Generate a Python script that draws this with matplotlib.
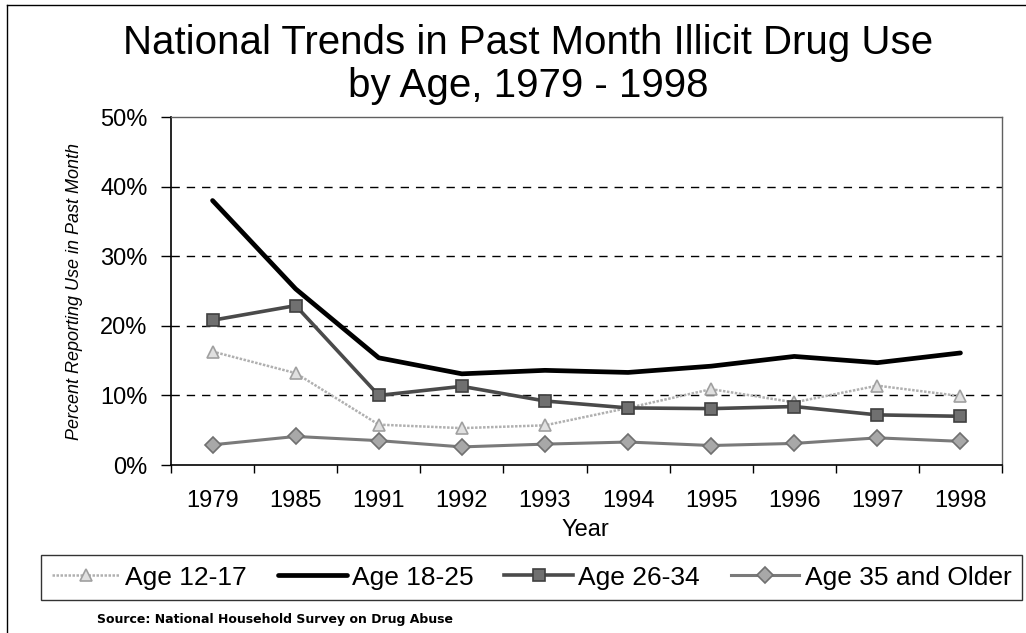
import matplotlib
matplotlib.use("Agg")
import matplotlib.pyplot as plt
from matplotlib.lines import Line2D
from matplotlib.ticker import PercentFormatter, FixedLocator, NullFormatter

years = ["1979", "1985", "1991", "1992", "1993", "1994", "1995", "1996", "1997", "1998"]
age_12_17 = [16.3, 13.2, 5.8, 5.3, 5.7, 8.2, 10.9, 9.0, 11.4, 9.9]
age_18_25 = [38.0, 25.3, 15.4, 13.1, 13.6, 13.3, 14.2, 15.6, 14.7, 16.1]
age_26_34 = [20.8, 22.9, 10.0, 11.3, 9.2, 8.2, 8.1, 8.4, 7.2, 7.0]
age_35_up = [2.9, 4.1, 3.5, 2.6, 3.0, 3.3, 2.8, 3.1, 3.9, 3.4]
y_ticks = [0, 10, 20, 30, 40, 50]

plt.rcParams['font.family'] = ['Liberation Sans', 'DejaVu Sans']

W, H = 1026, 633
fig = plt.figure(figsize=(W / 100, H / 100), dpi=100)
ax = fig.add_axes([171/W, 1-465/H, 831/W, 348/H])

x = list(range(len(years)))
ax.plot(x, age_12_17, color='#b0b0b0', lw=1.8, ls=(0, (1, 0.6)), marker='^', ms=9,
        mfc='#e0e0e0', mec='#a0a0a0', mew=1.2, label='Age 12-17', zorder=3)
ax.plot(x, age_18_25, color='black', lw=3.4, label='Age 18-25', zorder=5,
        solid_joinstyle='round', solid_capstyle='round')
ax.plot(x, age_26_34, color='#4a4a4a', lw=2.6, marker='s', ms=9,
        mfc='#707070', mec='#404040', mew=1.2, label='Age 26-34', zorder=4)
ax.plot(x, age_35_up, color='#7a7a7a', lw=2.2, marker='D', ms=8,
        mfc='#a8a8a8', mec='#707070', mew=1.2, label='Age 35 and Older', zorder=3)

ax.set_ylim(0, 50)
ax.set_xlim(-0.5, len(years) - 0.5)
ax.yaxis.set_major_locator(FixedLocator(y_ticks))
ax.yaxis.set_major_formatter(PercentFormatter(decimals=0))
ax.set_xticks(x)
ax.set_xticklabels(years)
ax.xaxis.set_minor_locator(FixedLocator([i - 0.5 for i in range(len(years) + 1)]))
ax.xaxis.set_minor_formatter(NullFormatter())
ax.tick_params(axis='x', which='major', length=0, pad=26, labelsize=17)
ax.tick_params(axis='x', which='minor', length=6, width=1, direction='out')
ax.tick_params(axis='y', length=7, width=1, direction='out', labelsize=17, pad=10)
for lab in ax.get_xticklabels():
    lab.set_va('center')

for v in y_ticks[1:-1]:
    ax.axhline(v, color='black', lw=1, ls=(0, (6, 5)), zorder=1)

for s in ['left', 'bottom']:
    ax.spines[s].set_color('black')
    ax.spines[s].set_linewidth(1.2)
for s in ['top', 'right']:
    ax.spines[s].set_color('#606060')
    ax.spines[s].set_linewidth(1.0)

fig.text(585/W, 1-530/H, 'Year', ha='center', va='center', fontsize=17)
ax.set_ylabel('Percent Reporting Use in Past Month', fontsize=13, style='italic',
              family=['Liberation Sans Narrow', 'Liberation Sans'], labelpad=12)

fig.text(528/W, 1-43/H, 'National Trends in Past Month Illicit Drug Use',
         ha='center', va='center', fontsize=29)
fig.text(528/W, 1-86/H, 'by Age, 1979 - 1998', ha='center', va='center', fontsize=29)

handles, labels = ax.get_legend_handles_labels()
leg = fig.legend(handles, labels, ncol=4, loc='center',
                 bbox_to_anchor=(41/W, 1-599/H, 981/W, 43/H), mode='expand',
                 fontsize=19, frameon=True, fancybox=False, handlelength=2.6,
                 handletextpad=0.2, columnspacing=0.6, borderpad=0.4, borderaxespad=0)
leg.get_frame().set_edgecolor('black')
leg.get_frame().set_linewidth(1.0)

fig.text(97/W, 1-619/H, 'Source: National Household Survey on Drug Abuse',
         ha='left', va='center', fontsize=9, fontweight='bold', family='DejaVu Sans')

# figure border (left and top edges)
fig.add_artist(Line2D([7/W, 7/W], [0, 1-5/H], transform=fig.transFigure, color='black', lw=1))
fig.add_artist(Line2D([7/W, 1], [1-5/H, 1-5/H], transform=fig.transFigure, color='black', lw=1))

fig.savefig('out.png', dpi=100)
